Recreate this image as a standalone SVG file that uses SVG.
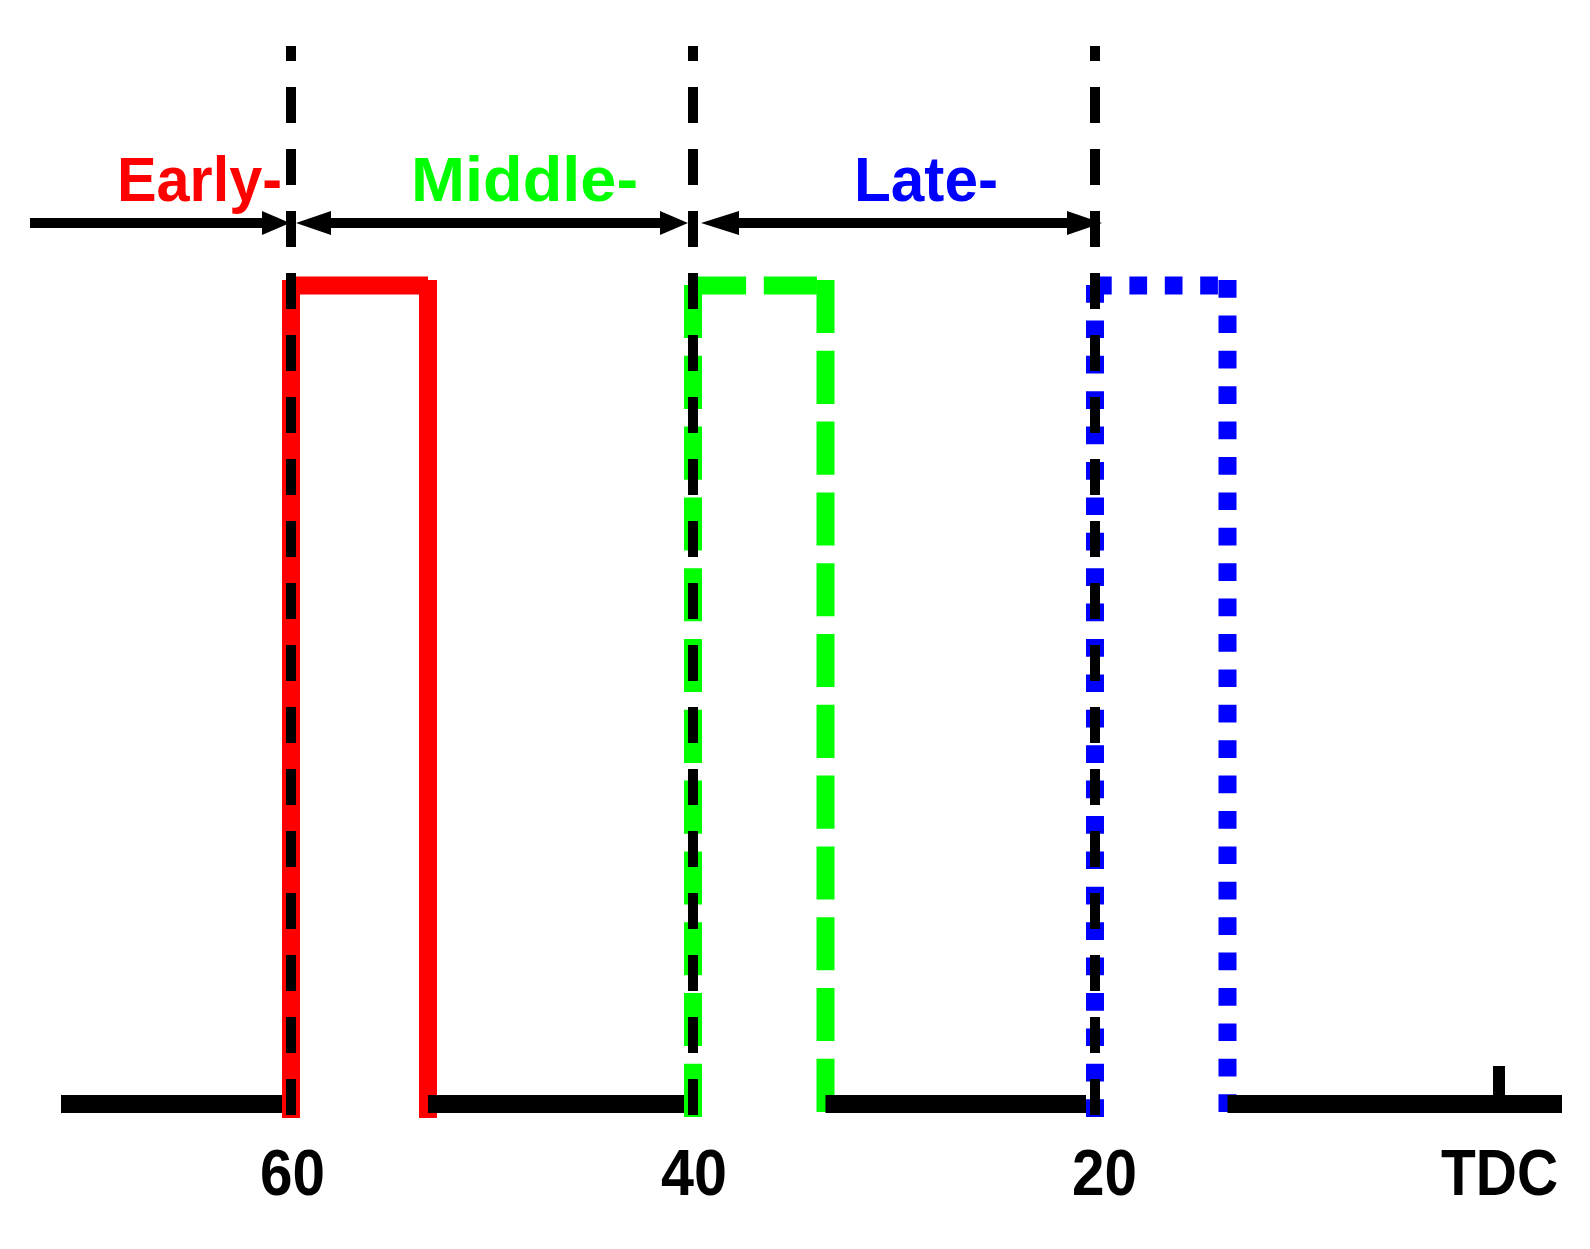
<svg xmlns="http://www.w3.org/2000/svg" width="1590" height="1249" viewBox="0 0 1590 1249">
  <style>
    .lbl { font-family: "Liberation Sans", Arial, sans-serif; font-weight: bold; font-size: 63px; }
    .num { font-family: "Liberation Sans", Arial, sans-serif; font-weight: bold; font-size: 64px; fill: #000; }
    .red { stroke: #FF0000; stroke-width: 18; fill: none; stroke-linecap: butt; }
    .green { stroke: #00FF00; stroke-width: 18; fill: none; stroke-dasharray: 53.1 17.7; stroke-linecap: butt; }
    .blue { stroke: #0000FF; stroke-width: 18; fill: none; stroke-dasharray: 17.7 17.7; stroke-linecap: butt; }
    .base { stroke: #000; stroke-width: 18; fill: none; }
    .vdash { stroke: #000; stroke-width: 10; fill: none; stroke-dasharray: 36 26; stroke-dashoffset: 21; }
    .arr { stroke: #000; stroke-width: 10; fill: none; }
    .head { fill: #000; }
  </style>
  <rect width="1590" height="1249" fill="#FFFFFF"/>

  <g id="pulse-early">
    <line class="red" x1="291" y1="280" x2="291" y2="1118"/>
    <line class="red" x1="291" y1="285.5" x2="428" y2="285.5"/>
    <line class="red" x1="428" y1="280" x2="428" y2="1118"/>
  </g>
  <g id="pulse-middle">
    <line class="green" x1="693" y1="285" x2="693" y2="1118"/>
    <line class="green" x1="693" y1="285.5" x2="817" y2="285.5"/>
    <line class="green" x1="825.5" y1="280" x2="825.5" y2="1114"/>
  </g>
  <g id="pulse-late">
    <line class="blue" x1="1095" y1="285" x2="1095" y2="1118"/>
    <line class="blue" x1="1094" y1="285.5" x2="1218" y2="285.5"/>
    <line class="blue" x1="1227.5" y1="280" x2="1227.5" y2="1113"/>
  </g>

  <g id="axis">
    <line class="base" x1="61" y1="1104" x2="282" y2="1104"/>
    <line class="base" x1="428" y1="1104" x2="684" y2="1104"/>
    <line class="base" x1="825.5" y1="1104" x2="1086" y2="1104"/>
    <line class="base" x1="1227.5" y1="1104" x2="1562" y2="1104"/>
    <line stroke="#000" stroke-width="12" x1="1499" y1="1066" x2="1499" y2="1100"/>
  </g>

  <g id="markers">
    <line class="vdash" x1="291" y1="46" x2="291" y2="1115"/>
    <line class="vdash" x1="693" y1="46" x2="693" y2="1115"/>
    <line class="vdash" x1="1095" y1="46" x2="1095" y2="1115"/>
  </g>

  <g id="connectors">
    <line class="arr" x1="30" y1="223" x2="264" y2="223"/>
    <polygon class="head" points="262,211 290,223 262,235"/>
    <line class="arr" x1="330" y1="223" x2="661" y2="223"/>
    <polygon class="head" points="331,211 296,223 331,235"/>
    <polygon class="head" points="660,211 688,223 660,235"/>
    <line class="arr" x1="738" y1="223" x2="1068" y2="223"/>
    <polygon class="head" points="739,211 701,223 739,235"/>
    <polygon class="head" points="1067,211 1102,223 1067,235"/>
  </g>

  <g id="labels">
    <text class="lbl" fill="#FF0000" x="117" y="201" textLength="165" lengthAdjust="spacingAndGlyphs">Early-</text>
    <text class="lbl" fill="#00FF00" x="411" y="201" textLength="227" lengthAdjust="spacingAndGlyphs">Middle-</text>
    <text class="lbl" fill="#0000FF" x="854" y="201" textLength="144" lengthAdjust="spacingAndGlyphs">Late-</text>
    <text class="num" x="260" y="1195" textLength="65" lengthAdjust="spacingAndGlyphs">60</text>
    <text class="num" x="661" y="1195" textLength="66" lengthAdjust="spacingAndGlyphs">40</text>
    <text class="num" x="1072" y="1195" textLength="65" lengthAdjust="spacingAndGlyphs">20</text>
    <text class="num" x="1441" y="1195" textLength="117" lengthAdjust="spacingAndGlyphs">TDC</text>
  </g>
</svg>
